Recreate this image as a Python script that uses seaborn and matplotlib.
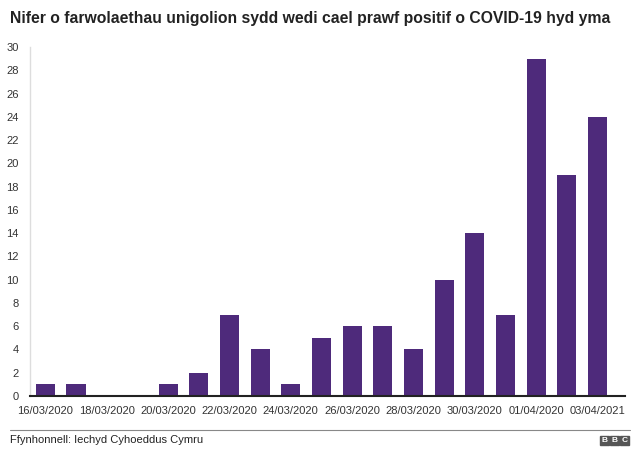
import matplotlib
matplotlib.use("Agg")
import matplotlib.pyplot as plt
import seaborn as sns
import pandas as pd
from matplotlib.patches import Rectangle

dates = ["16/03/2020", "17/03/2020", "18/03/2020", "19/03/2020", "20/03/2020",
         "21/03/2020", "22/03/2020", "23/03/2020", "24/03/2020", "25/03/2020",
         "26/03/2020", "27/03/2020", "28/03/2020", "29/03/2020", "30/03/2020",
         "31/03/2020", "01/04/2020", "02/04/2020", "03/04/2021"]
deaths = [1, 1, 0, 0, 1, 2, 7, 4, 1, 5, 6, 6, 4, 10, 14, 7, 29, 19, 24]
yticks = list(range(0, 31, 2))

title = "Nifer o farwolaethau unigolion sydd wedi cael prawf positif o COVID-19 hyd yma"
source = "Ffynhonnell: Iechyd Cyhoeddus Cymru"

sns.set_theme(style="white")
plt.rcParams['font.family'] = ['Liberation Sans', 'DejaVu Sans']

df = pd.DataFrame({"date": dates, "deaths": deaths})

fig = plt.figure(figsize=(6.4, 4.58), dpi=100)
ax = fig.add_axes([30/640, 1 - 396/458, 595/640, (396 - 47)/458])

sns.barplot(data=df, x="date", y="deaths", color="#4E2A7B", width=0.62,
            saturation=1, ax=ax, edgecolor="none")

ax.set_ylim(0, 30)
ax.set_xlim(-0.5, 18.9)
ax.set_yticks(yticks)
ax.set_yticklabels([str(v) for v in yticks], fontsize=8, color="#333333")
ax.set_xticks(range(0, len(dates), 2))
ax.set_xticklabels(dates[::2], fontsize=8, color="#333333")
ax.set_xlabel("")
ax.set_ylabel("")
ax.tick_params(axis="x", length=0, pad=7)
ax.tick_params(axis="y", length=0, pad=8)
for s in ["top", "right"]:
    ax.spines[s].set_visible(False)
ax.spines["left"].set_color("#dddddd")
ax.spines["left"].set_linewidth(1)
ax.spines["bottom"].set_color("#222222")
ax.spines["bottom"].set_linewidth(1.5)

fig.text(10/640, 1 - 19/458, title, fontsize=11.3, fontweight="bold",
         color="#222222", va="center", ha="left")

fig.add_artist(plt.Line2D([10/640, 630/640], [1 - 430/458, 1 - 430/458],
                          color="#888888", linewidth=0.8))
fig.text(10/640, 1 - 440/458, source, fontsize=8, color="#222222",
         va="center", ha="left")

# BBC logo blocks
for i, letter in enumerate("BBC"):
    x0 = 600 + i * 10
    fig.add_artist(Rectangle((x0/640, 1 - 445/458), 9/640, 9/458,
                             transform=fig.transFigure, color="#555555"))
    fig.text((x0 + 4.5)/640, 1 - 440.5/458, letter, fontsize=6, color="white",
             fontweight="bold", ha="center", va="center")

fig.savefig("out.png", dpi=100)
